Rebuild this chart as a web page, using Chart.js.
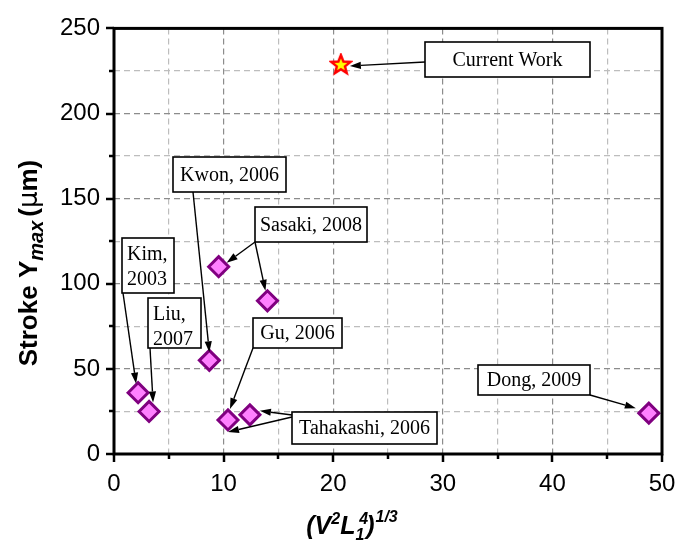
<!DOCTYPE html>
<html>
<head>
<meta charset="utf-8">
<script src="https://cdn.jsdelivr.net/npm/chart.js@4"></script>
<style>
  html, body { margin: 0; padding: 0; background: #fff; }
</style>
</head>
<body>
<canvas id="stroke-chart" width="693" height="548"></canvas>
<script>
// published devices: (V^2 L1^4)^(1/3) vs max stroke (um)
const pointNames = ['Kim, 2003', 'Liu, 2007', 'Kwon, 2006', 'Sasaki, 2008 a', 'Sasaki, 2008 b', 'Gu, 2006', 'Tahakashi, 2006', 'Dong, 2009'];
const xValues = [2.2, 3.2, 8.7, 9.55, 14.0, 10.4, 12.4, 48.8];
const yValues = [36, 25, 55, 110, 90, 20, 23, 24];

const currentX = [20.7];
const currentY = [228.5];

const xTicks = [0, 10, 20, 30, 40, 50];
const yTicks = [0, 50, 100, 150, 200, 250];

// label boxes (pixel layout) and which point each arrow goes to
const labelBoxes = [
  { lines: ['Current Work'], x: 425, y: 42, w: 165, h: 35, arrows: [{ from: [425, 62], ds: 1, i: 0, dx: 9, dy: 1 }] },
  { lines: ['Kwon, 2006'], x: 173, y: 157, w: 113, h: 35, arrows: [{ from: [193, 192], ds: 0, i: 2, dx: 0, dy: -8 }] },
  { lines: ['Sasaki, 2008'], x: 255, y: 207, w: 112, h: 35, arrows: [
    { from: [255, 242], ds: 0, i: 3, dx: 8, dy: -4 },
    { from: [255, 242], ds: 0, i: 4, dx: -2, dy: -10 }] },
  { lines: ['Kim,', '2003'], x: 122, y: 238, w: 52, h: 55, left: true, arrows: [{ from: [123, 293], ds: 0, i: 0, dx: -2, dy: -9 }] },
  { lines: ['Liu,', '2007'], x: 148, y: 298, w: 53, h: 50, left: true, arrows: [{ from: [150, 348], ds: 0, i: 1, dx: 4, dy: -9 }] },
  { lines: ['Gu, 2006'], x: 253, y: 318, w: 89, h: 30, arrows: [{ from: [253, 348], ds: 0, i: 5, dx: 2, dy: -11 }] },
  { lines: ['Tahakashi, 2006'], x: 292, y: 412, w: 145, h: 32, arrows: [
    { from: [292, 415], ds: 0, i: 6, dx: 10, dy: -4 },
    { from: [292, 417], ds: 0, i: 5, dx: 0, dy: 12 }] },
  { lines: ['Dong, 2009'], x: 478, y: 365, w: 112, h: 30, arrows: [{ from: [590, 395], ds: 0, i: 7, dx: -13, dy: -5 }] }
];

function makeStar() {
  const c = document.createElement('canvas');
  c.width = 24; c.height = 24;
  const g = c.getContext('2d');
  g.beginPath();
  for (let k = 0; k < 10; k++) {
    const r = k % 2 === 0 ? 10 : 4.3;
    const a = -Math.PI / 2 + k * Math.PI / 5;
    g.lineTo(12 + r * Math.cos(a), 12 + r * Math.sin(a));
  }
  g.closePath();
  g.fillStyle = '#ffff00';
  g.fill();
  g.lineWidth = 2.4;
  g.strokeStyle = '#ff0000';
  g.lineJoin = 'miter';
  g.stroke();
  return c;
}

function drawArrow(ctx, x1, y1, x2, y2) {
  const ang = Math.atan2(y2 - y1, x2 - x1);
  const len = 11, half = 3.6;
  const bx = x2 - len * Math.cos(ang), by = y2 - len * Math.sin(ang);
  ctx.beginPath();
  ctx.moveTo(x1, y1);
  ctx.lineTo(bx, by);
  ctx.stroke();
  ctx.beginPath();
  ctx.moveTo(x2, y2);
  ctx.lineTo(bx + half * Math.sin(ang), by - half * Math.cos(ang));
  ctx.lineTo(bx - half * Math.sin(ang), by + half * Math.cos(ang));
  ctx.closePath();
  ctx.fill();
}

function drawPieces(ctx, pieces, x, y, align) {
  let total = 0;
  pieces.forEach(p => { ctx.font = p.font; total += ctx.measureText(p.t).width + (p.gap || 0); });
  let cx = align === 'center' ? x - total / 2 : x;
  ctx.textAlign = 'left';
  ctx.textBaseline = 'alphabetic';
  pieces.forEach(p => {
    ctx.font = p.font;
    ctx.fillText(p.t, cx + (p.ox || 0), y + (p.dy || 0));
    cx += ctx.measureText(p.t).width + (p.gap || 0);
  });
}

const decorPlugin = {
  id: 'decor',
  afterDraw(chart) {
    const { ctx, chartArea: a, scales: { x, y } } = chart;
    ctx.save();
    ctx.fillStyle = '#000';
    ctx.strokeStyle = '#000';

    // tick marks (major + minor), outward
    ctx.lineWidth = 2.5;
    for (let v = 0; v <= 50; v += 5) {
      const px = Math.round(x.getPixelForValue(v));
      const l = v % 10 === 0 ? 8 : 5;
      ctx.beginPath(); ctx.moveTo(px, a.bottom); ctx.lineTo(px, a.bottom + l); ctx.stroke();
    }
    for (let v = 0; v <= 250; v += 25) {
      const py = Math.round(y.getPixelForValue(v));
      const l = v % 50 === 0 ? 8 : 5;
      ctx.beginPath(); ctx.moveTo(a.left, py); ctx.lineTo(a.left - l, py); ctx.stroke();
    }

    // frame
    ctx.lineWidth = 3;
    ctx.strokeRect(a.left, a.top, a.right - a.left, a.bottom - a.top);

    // label boxes with arrows
    ctx.lineWidth = 1.4;
    labelBoxes.forEach(b => {
      b.arrows.forEach(r => {
        const el = chart.getDatasetMeta(r.ds).data[r.i];
        drawArrow(ctx, r.from[0], r.from[1], el.x + r.dx, el.y + r.dy);
      });
    });
    labelBoxes.forEach(b => {
      ctx.fillStyle = '#fff';
      ctx.fillRect(b.x, b.y, b.w, b.h);
      ctx.lineWidth = 1.6;
      ctx.strokeRect(b.x, b.y, b.w, b.h);
      ctx.fillStyle = '#000';
      ctx.font = '20px "Liberation Serif", "Times New Roman", serif';
      if (b.left) {
        ctx.textAlign = 'left';
        ctx.textBaseline = 'alphabetic';
        b.lines.forEach((t, k) => ctx.fillText(t, b.x + 5, b.y + 22 + k * 24.5));
      } else {
        ctx.textAlign = 'center';
        ctx.textBaseline = 'middle';
        ctx.fillText(b.lines[0], b.x + b.w / 2, b.y + b.h / 2 + 1);
      }
    });

    // axis titles
    const sans = '"Liberation Sans", Arial, sans-serif';
    ctx.fillStyle = '#000';
    drawPieces(ctx, [
      { t: '(', font: 'italic bold 25px ' + sans },
      { t: 'V', font: 'italic bold 25px ' + sans },
      { t: '2', font: 'italic bold 16px ' + sans, dy: -10 },
      { t: 'L', font: 'italic bold 25px ' + sans },
      { t: '1', font: 'italic bold 16px ' + sans, dy: 6, gap: -7 },
      { t: '4', font: 'italic bold 16px ' + sans, dy: -10, ox: 2 },
      { t: ')', font: 'italic bold 25px ' + sans, gap: 1 },
      { t: '1/3', font: 'italic bold 16px ' + sans, dy: -12 }
    ], 352, 534, 'center');

    ctx.save();
    ctx.translate(37, 263);
    ctx.rotate(-Math.PI / 2);
    drawPieces(ctx, [
      { t: 'Stroke ', font: 'bold 26px ' + sans },
      { t: 'Y', font: 'bold 26px ' + sans },
      { t: 'max', font: 'italic bold 20px ' + sans, dy: 6, gap: 4 },
      { t: '(', font: 'bold 26px ' + sans },
      { t: '\u03bc', font: '26px "DejaVu Sans", sans-serif' },
      { t: 'm)', font: 'bold 26px ' + sans }
    ], 0, 0, 'center');
    ctx.restore();

    ctx.restore();
  }
};

const gridColor = (c) => {
  const v = c.tick ? c.tick.value : 0;
  const major = c.scale.axis === 'x' ? v % 10 === 0 : v % 50 === 0;
  return major ? '#8c8c8c' : '#bdbdbd';
};

const tickFont = { family: '"Liberation Sans", Arial, sans-serif', size: 24 };

new Chart(document.getElementById('stroke-chart'), {
  type: 'scatter',
  data: {
    datasets: [
      {
        label: 'Published work',
        data: xValues.map((v, i) => ({ x: v, y: yValues[i] })),
        pointStyle: 'rectRot',
        pointRadius: 10,
        pointBackgroundColor: '#ff80ff',
        pointBorderColor: '#800080',
        pointBorderWidth: 3
      },
      {
        label: 'Current Work',
        data: currentX.map((v, i) => ({ x: v, y: currentY[i] })),
        pointStyle: makeStar(),
        pointRadius: 10
      }
    ]
  },
  options: {
    responsive: false,
    animation: false,
    layout: { padding: { left: 0, top: 16, right: 31, bottom: 0 } },
    plugins: { legend: { display: false }, tooltip: { enabled: false } },
    scales: {
      x: {
        type: 'linear',
        min: 0,
        max: 50,
        afterFit: (s) => { s.height = 94; },
        afterBuildTicks: (s) => { s.ticks = []; for (let v = 0; v <= 50; v += 5) s.ticks.push({ value: v }); },
        ticks: {
          autoSkip: false,
          maxRotation: 0,
          padding: 16,
          color: '#000',
          font: tickFont,
          callback: (v) => xTicks.includes(v) ? String(v) : ''
        },
        grid: { color: gridColor, lineWidth: 1.2, drawTicks: false },
        border: { display: false, dash: [6, 4] }
      },
      y: {
        type: 'linear',
        min: 0,
        max: 250,
        afterFit: (s) => { s.width = 114; },
        afterBuildTicks: (s) => { s.ticks = []; for (let v = 0; v <= 250; v += 25) s.ticks.push({ value: v }); },
        ticks: {
          autoSkip: false,
          padding: 14,
          color: '#000',
          font: tickFont,
          callback: (v) => yTicks.includes(v) ? String(v) : ''
        },
        grid: { color: gridColor, lineWidth: 1.2, drawTicks: false },
        border: { display: false, dash: [6, 4] }
      }
    }
  },
  plugins: [decorPlugin]
});
</script>
</body>
</html>
